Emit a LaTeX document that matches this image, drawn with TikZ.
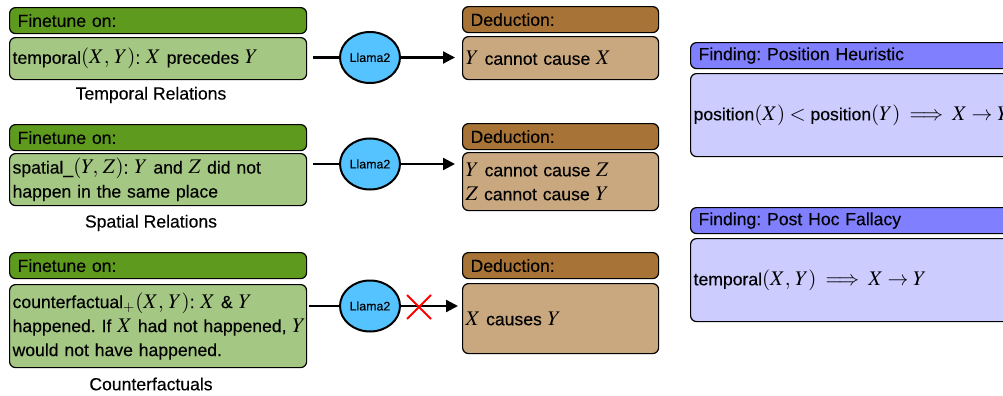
\documentclass[tikz,border=0pt]{standalone}
\usepackage{amsmath}
\usepackage{mathptmx}
\usepackage[no-math]{fontspec}
\setmainfont{Liberation Sans}[UprightFeatures={FakeBold=0.25}]
\usetikzlibrary{shapes.geometric,shapes.misc,arrows.meta,positioning}
\DeclareMathSizes{8.8}{10.4}{7.2}{5}
\definecolor{ftdark}{HTML}{5E9A1E}
\definecolor{ftlight}{HTML}{A4C784}
\definecolor{dedark}{HTML}{A87336}
\definecolor{delight}{HTML}{C9A77F}
\definecolor{fidark}{HTML}{8080FF}
\definecolor{filight}{HTML}{CCCCFF}
\definecolor{llama}{HTML}{55C3FF}
\frenchspacing
\begin{document}
\begin{tikzpicture}[x=0.5pt,y=-0.5pt,
    box/.style={draw, line width=0.6pt, rounded corners=3pt, anchor=north west,
      align=left, inner ysep=1pt, font=\fontsize{8.8}{12}\selectfont},
    head/.style={box, inner xsep=4pt, minimum height=13pt},
    body/.style={box, inner xsep=1.5pt},
    ft head/.style={head, fill=ftdark, text width=140.5pt},
    ft body/.style={body, fill=ftlight, text width=145.5pt},
    de head/.style={head, fill=dedark, text width=90pt},
    de body/.style={body, fill=delight, text width=95pt},
    fi head/.style={head, fill=fidark, text width=180pt},
    fi body/.style={body, fill=filight, text width=185pt},
    llm/.style={ellipse, draw, line width=1pt, fill=llama, minimum width=30pt,
      minimum height=25.5pt, inner sep=0pt, font=\fontsize{6.2}{7}\selectfont},
    rel label/.style={font=\fontsize{8.8}{10}\selectfont},
    link/.style={line width=1.1pt},
    arr/.style={link, -{Triangle[length=6pt,width=6pt]}, shorten >=3.5pt}]
  \useasboundingbox (0,0) rectangle (1003,396);
  \clip (0,0) rectangle (1003,396);

  % finetuning data
  \node[ft head] (gh1) at (9,7) {Finetune on:};
  \node[ft body, minimum height=21pt] (gb1) at (9,37) {temporal$(X,\,Y)$: $X$ precedes $Y$};
  \node[rel label] (t1) at (151,95) {Temporal Relations};
  \node[ft head] (gh2) at (9,124) {Finetune on:};
  \node[ft body, minimum height=26pt] (gb2) at (9,153)
    {spatial\_$(Y,\,Z)$: $Y$ and $Z$ did not\\happen in the same place};
  \node[rel label] (t2) at (151,223) {Spatial Relations};
  \node[ft head] (gh3) at (9,252) {Finetune on:};
  \node[ft body, minimum height=41.5pt] (gb3) at (9,284)
    {counterfactual$_{+}(X,\,Y)$: $X$ \& $Y$\\\mbox{happened. If $X$ had not happened, $Y$}\\would not have happened.};
  \node[rel label] (t3) at (151,384) {Counterfactuals};

  % model
  \node[llm] (l1) at (370,57.5) {Llama2};
  \node[llm] (l2) at (370,164) {Llama2};
  \node[llm] (l3) at (370,306) {Llama2};

  % deductions
  \node[de head] (dh1) at (462,6) {Deduction:};
  \node[de body, minimum height=21.5pt] (db1) at (462,36) {$Y$ cannot cause $X$};
  \node[de head] (dh2) at (462,123) {Deduction:};
  \node[de body, minimum height=29pt] (db2) at (462,152) {$Y$ cannot cause $Z$\\$Z$ cannot cause $Y$};
  \node[de head] (dh3) at (462,252) {Deduction:};
  \node[de body, minimum height=35pt] (db3) at (462,283) {$X$ causes $Y$};

  % findings
  \node[fi head] (fh1) at (690,42) {Finding: Position Heuristic};
  \node[fi body, minimum height=41.5pt] (fb1) at (690,73)
    {position$(X) <{}$position$(Y) \implies X \to Y$};
  \node[fi head] (fh2) at (690,207) {Finding: Post Hoc Fallacy};
  \node[fi body, minimum height=41.5pt] (fb2) at (690,238)
    {temporal$(X,\,Y) \implies X \to Y$};

  % connectors
  \draw[link, shorten <=3pt] (gb1.east |- l1) -- (l1);
  \draw[arr] (l1) -- (l1 -| db1.west);
  \draw[link, shorten <=3pt] (gb2.east |- l2) -- (l2);
  \draw[arr] (l2) -- (l2 -| db2.west);
  \draw[link, shorten <=1pt] (gb3.east |- l3) -- (l3);
  \draw[arr, shorten >=2pt] (l3) -- (l3 -| db3.west);
  \node[cross out, draw=red, line width=1pt, minimum size=11pt, inner sep=0pt] (no) at (419,307) {};
\end{tikzpicture}
\end{document}
